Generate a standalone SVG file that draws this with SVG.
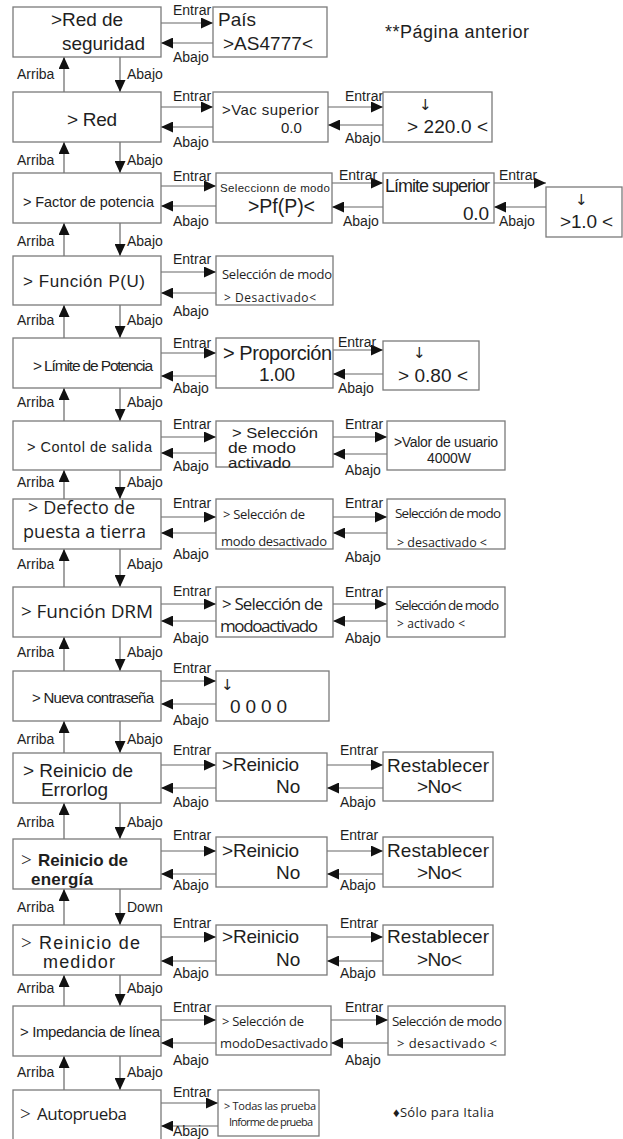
<svg xmlns="http://www.w3.org/2000/svg" width="623" height="1139" viewBox="0 0 623 1139">
<defs>
<style>
.box{fill:#fff;stroke:#7a7a7a;stroke-width:1.3}
.ln{stroke:#666;stroke-width:1.2;fill:none;marker-end:url(#ah)}
text{font-family:"Liberation Sans",Arial,sans-serif;fill:#1e1e1e}
.l{font-size:14px}
.m{font-family:"Open Sans","Noto Sans",sans-serif}
.b{font-weight:bold}
.s{font-family:"DejaVu Sans",sans-serif}
.t{font-family:"Liberation Serif",serif;font-weight:normal}
</style>
<marker id="ah" markerUnits="userSpaceOnUse" markerWidth="12" markerHeight="11" refX="12" refY="5.5" orient="auto"><path d="M0,0L12,5.5L0,11Z" fill="#111"/></marker>
</defs>

<g id="connectors">
<path class="ln" d="M64,92V57"/><path class="ln" d="M120,57V92"/>
<path class="ln" d="M64,173V142"/><path class="ln" d="M120,142V173"/>
<path class="ln" d="M64,256V223"/><path class="ln" d="M120,223V256"/>
<path class="ln" d="M64,338V305"/><path class="ln" d="M120,305V338"/>
<path class="ln" d="M64,421V388"/><path class="ln" d="M120,388V421"/>
<path class="ln" d="M64,499V470"/><path class="ln" d="M120,470V499"/>
<path class="ln" d="M64,587V549"/><path class="ln" d="M120,549V587"/>
<path class="ln" d="M64,671V637"/><path class="ln" d="M120,637V671"/>
<path class="ln" d="M64,753V721"/><path class="ln" d="M120,721V753"/>
<path class="ln" d="M64,839V803"/><path class="ln" d="M120,803V839"/>
<path class="ln" d="M64,925V889"/><path class="ln" d="M120,889V925"/>
<path class="ln" d="M64,1006V975"/><path class="ln" d="M120,975V1006"/>
<path class="ln" d="M64,1090V1056"/><path class="ln" d="M120,1056V1090"/>
<path class="ln" d="M161,23H213"/><path class="ln" d="M213,43H161"/>
<path class="ln" d="M161,107H213"/><path class="ln" d="M213,127H161"/>
<path class="ln" d="M328,107H383"/><path class="ln" d="M383,125H328"/>
<path class="ln" d="M161,186H216"/><path class="ln" d="M216,206H161"/>
<path class="ln" d="M332,183H383"/><path class="ln" d="M383,207H332"/>
<path class="ln" d="M494,183H546"/><path class="ln" d="M546,207H494"/>
<path class="ln" d="M161,272H216"/><path class="ln" d="M216,293H161"/>
<path class="ln" d="M161,353H216"/><path class="ln" d="M216,376H161"/>
<path class="ln" d="M333,350H383"/><path class="ln" d="M383,374H333"/>
<path class="ln" d="M161,437H216"/><path class="ln" d="M216,453H161"/>
<path class="ln" d="M333,437H387"/><path class="ln" d="M387,454H333"/>
<path class="ln" d="M161,517H216"/><path class="ln" d="M216,533H161"/>
<path class="ln" d="M333,517H387"/><path class="ln" d="M387,533H333"/>
<path class="ln" d="M161,604H216"/><path class="ln" d="M216,621H161"/>
<path class="ln" d="M333,604H387"/><path class="ln" d="M387,621H333"/>
<path class="ln" d="M161,681H216"/><path class="ln" d="M216,704H161"/>
<path class="ln" d="M161,765H216"/><path class="ln" d="M216,788H161"/>
<path class="ln" d="M327,765H383"/><path class="ln" d="M383,788H327"/>
<path class="ln" d="M161,851H216"/><path class="ln" d="M216,874H161"/>
<path class="ln" d="M327,851H383"/><path class="ln" d="M383,874H327"/>
<path class="ln" d="M161,937H216"/><path class="ln" d="M216,961H161"/>
<path class="ln" d="M327,937H383"/><path class="ln" d="M383,961H327"/>
<path class="ln" d="M161,1020H216"/><path class="ln" d="M216,1043H161"/>
<path class="ln" d="M331,1020H388"/><path class="ln" d="M388,1043H331"/>
<path class="ln" d="M161,1103H218"/><path class="ln" d="M218,1126H161"/>
<g class="l">
<text x="17" y="79">Arriba</text><text x="127" y="79">Abajo</text>
<text x="17" y="165">Arriba</text><text x="127" y="165">Abajo</text>
<text x="17" y="246">Arriba</text><text x="127" y="246">Abajo</text>
<text x="17" y="325">Arriba</text><text x="127" y="325">Abajo</text>
<text x="17" y="407">Arriba</text><text x="127" y="407">Abajo</text>
<text x="17" y="487">Arriba</text><text x="127" y="487">Abajo</text>
<text x="17" y="569">Arriba</text><text x="127" y="569">Abajo</text>
<text x="17" y="657">Arriba</text><text x="127" y="657">Abajo</text>
<text x="17" y="744">Arriba</text><text x="127" y="744">Abajo</text>
<text x="17" y="827">Arriba</text><text x="127" y="827">Abajo</text>
<text x="17" y="912">Arriba</text><text x="127" y="912">Down</text>
<text x="17" y="993">Arriba</text><text x="127" y="993">Abajo</text>
<text x="17" y="1077">Arriba</text><text x="127" y="1077">Abajo</text>
<text x="173" y="15">Entrar</text><text x="173" y="62">Abajo</text>
<text x="173" y="101">Entrar</text><text x="173" y="147">Abajo</text>
<text x="345" y="101">Entrar</text><text x="345" y="143">Abajo</text>
<text x="173" y="181">Entrar</text><text x="173" y="226">Abajo</text>
<text x="339" y="180">Entrar</text><text x="343" y="226">Abajo</text>
<text x="499" y="180">Entrar</text><text x="499" y="226">Abajo</text>
<text x="173" y="264">Entrar</text><text x="173" y="316">Abajo</text>
<text x="173" y="348">Entrar</text><text x="173" y="393">Abajo</text>
<text x="338" y="347">Entrar</text><text x="338" y="393">Abajo</text>
<text x="173" y="429">Entrar</text><text x="173" y="471">Abajo</text>
<text x="345" y="429">Entrar</text><text x="345" y="475">Abajo</text>
<text x="173" y="508">Entrar</text><text x="173" y="559">Abajo</text>
<text x="345" y="508">Entrar</text><text x="345" y="562">Abajo</text>
<text x="173" y="596">Entrar</text><text x="173" y="643">Abajo</text>
<text x="345" y="597">Entrar</text><text x="345" y="643">Abajo</text>
<text x="173" y="673">Entrar</text><text x="173" y="725">Abajo</text>
<text x="173" y="755">Entrar</text><text x="173" y="807">Abajo</text>
<text x="340" y="755">Entrar</text><text x="340" y="807">Abajo</text>
<text x="173" y="840">Entrar</text><text x="173" y="890">Abajo</text>
<text x="340" y="840">Entrar</text><text x="340" y="890">Abajo</text>
<text x="173" y="928">Entrar</text><text x="173" y="978">Abajo</text>
<text x="340" y="928">Entrar</text><text x="340" y="978">Abajo</text>
<text x="173" y="1012">Entrar</text><text x="173" y="1065">Abajo</text>
<text x="345" y="1012">Entrar</text><text x="345" y="1065">Abajo</text>
<text x="173" y="1097">Entrar</text><text x="173" y="1136">Abajo</text>
</g>
</g>

<text x="385" y="38" font-size="18" textLength="144">**Página anterior</text>

<g id="n1"><rect class="box" x="13" y="7" width="148" height="50"/>
<text font-size="19"><tspan x="51" y="26" textLength="72">&gt;Red de</tspan><tspan x="62" y="50" textLength="83">seguridad</tspan></text></g>
<g id="n1b"><rect class="box" x="213" y="7" width="114" height="50"/>
<text font-size="19"><tspan x="218" y="26">País</tspan><tspan x="223" y="50" textLength="90">&gt;AS4777&lt;</tspan></text></g>

<g id="n2"><rect class="box" x="13" y="92" width="148" height="50"/>
<text x="67" y="126" font-size="19" textLength="50">&gt; Red</text></g>
<g id="n2b"><rect class="box" x="213" y="92" width="115" height="50"/>
<text font-size="15"><tspan x="222" y="115" textLength="97">&gt;Vac superior</tspan><tspan x="281" y="133">0.0</tspan></text></g>
<g id="n2c"><rect class="box" x="383" y="92" width="109" height="50"/>
<text font-size="19"><tspan x="419" y="110" font-size="15" class="s">↓</tspan><tspan x="407" y="133" textLength="81">&gt; 220.0 &lt;</tspan></text></g>

<g id="n3"><rect class="box" x="13" y="173" width="148" height="50"/>
<text x="23" y="207" font-size="14.5" textLength="131">&gt; Factor de potencia</text></g>
<g id="n3b"><rect class="box" x="216" y="173" width="116" height="50"/>
<text><tspan x="220" y="192" font-size="11.5" textLength="110">Seleccionn de modo</tspan><tspan x="248" y="213" font-size="19.5" textLength="67">&gt;Pf(P)&lt;</tspan></text></g>
<g id="n3c"><rect class="box" x="383" y="173" width="111" height="50"/>
<text font-size="18"><tspan x="385" y="192" textLength="105">Límite superior</tspan><tspan x="463" y="220" font-size="19" textLength="26">0.0</tspan></text></g>
<g id="n3d"><rect class="box" x="546" y="187" width="76" height="50"/>
<text font-size="19"><tspan x="575" y="205" font-size="15" class="s">↓</tspan><tspan x="560" y="228" textLength="53">&gt;1.0 &lt;</tspan></text></g>

<g id="n4"><rect class="box" x="13" y="256" width="148" height="49"/>
<text x="23" y="287" font-size="17" textLength="122">&gt; Función P(U)</text></g>
<g id="n4b"><rect class="box" x="216" y="256" width="117" height="49"/>
<text class="m"><tspan x="222" y="279" font-size="13" textLength="110">Selección de modo</tspan><tspan x="224" y="302" font-size="12" textLength="92">&gt; Desactivado&lt;</tspan></text></g>

<g id="n5"><rect class="box" x="13" y="338" width="148" height="50"/>
<text x="33" y="371" font-size="15.5" textLength="120">&gt; Límite de Potencia</text></g>
<g id="n5b"><rect class="box" x="216" y="338" width="117" height="50"/>
<text><tspan x="223" y="360" font-size="20" textLength="109">&gt; Proporción</tspan><tspan x="259" y="381" font-size="19" textLength="36">1.00</tspan></text></g>
<g id="n5c"><rect class="box" x="383" y="341" width="96" height="49"/>
<text font-size="19"><tspan x="413" y="358" font-size="15" class="s">↓</tspan><tspan x="398" y="382" textLength="70">&gt; 0.80 &lt;</tspan></text></g>

<g id="n6"><rect class="box" x="13" y="421" width="148" height="49"/>
<text x="27" y="452" font-size="14.5" textLength="125">&gt; Contol de salida</text></g>
<g id="n6b"><rect class="box" x="216" y="421" width="117" height="46"/>
<text font-size="14.5"><tspan x="232" y="438" textLength="86" lengthAdjust="spacingAndGlyphs">&gt; Selección</tspan><tspan x="228" y="453" textLength="68" lengthAdjust="spacingAndGlyphs">de modo</tspan><tspan x="228" y="468" textLength="63" lengthAdjust="spacingAndGlyphs">activado</tspan></text></g>
<g id="n6c"><rect class="box" x="387" y="421" width="118" height="49"/>
<text font-size="14"><tspan x="394" y="447" textLength="104">&gt;Valor de usuario</tspan><tspan x="427" y="463" textLength="44">4000W</tspan></text></g>

<g id="n7"><rect class="box" x="13" y="499" width="148" height="50"/>
<text class="m" font-size="18"><tspan x="28" y="514" textLength="107">&gt; Defecto de</tspan><tspan x="23" y="538" textLength="123">puesta a tierra</tspan></text></g>
<g id="n7b"><rect class="box" x="216" y="499" width="117" height="50"/>
<text class="m" font-size="13"><tspan x="223" y="519" textLength="82">&gt; Selección de</tspan><tspan x="221" y="546" textLength="106">modo desactivado</tspan></text></g>
<g id="n7c"><rect class="box" x="387" y="499" width="118" height="50"/>
<text class="m" font-size="13.5"><tspan x="395" y="518" textLength="106">Selección de modo</tspan><tspan x="397" y="547" font-size="12.5" textLength="90">&gt; desactivado &lt;</tspan></text></g>

<g id="n8"><rect class="box" x="13" y="587" width="148" height="50"/>
<text x="21" y="618" font-size="19" class="m" textLength="132">&gt; Función DRM</text></g>
<g id="n8b"><rect class="box" x="216" y="587" width="117" height="50"/>
<text class="m" font-size="17"><tspan x="222" y="610" textLength="101">&gt; Selección de</tspan><tspan x="220" y="632" textLength="98">modoactivado</tspan></text></g>
<g id="n8c"><rect class="box" x="387" y="587" width="118" height="50"/>
<text class="m" font-size="13.5"><tspan x="395" y="610" textLength="104">Selección de modo</tspan><tspan x="397" y="628" font-size="12" textLength="68">&gt; activado &lt;</tspan></text></g>

<g id="n9"><rect class="box" x="13" y="671" width="148" height="50"/>
<text x="32" y="703" font-size="15" textLength="122">&gt; Nueva contraseña</text></g>
<g id="n9b"><rect class="box" x="216" y="671" width="113" height="50"/>
<text font-size="19"><tspan x="221" y="690" font-size="15" class="s">↓</tspan><tspan x="230" y="713" textLength="57">0 0 0 0</tspan></text></g>

<g id="n10"><rect class="box" x="13" y="753" width="148" height="50"/>
<text font-size="19"><tspan x="23" y="777" textLength="110">&gt; Reinicio de</tspan><tspan x="41" y="796" textLength="67">Errorlog</tspan></text></g>
<g id="n10b"><rect class="box" x="216" y="753" width="111" height="48"/>
<text font-size="19"><tspan x="222" y="771" textLength="77">&gt;Reinicio</tspan><tspan x="276" y="793">No</tspan></text></g>
<g id="n10c"><rect class="box" x="383" y="752" width="110" height="49"/>
<text font-size="19"><tspan x="387" y="772" textLength="102">Restablecer</tspan><tspan x="417" y="793" textLength="45">&gt;No&lt;</tspan></text></g>

<g id="n11"><rect class="box" x="13" y="839" width="148" height="50"/>
<text class="b" font-size="17"><tspan x="21" y="866" font-size="19" class="t">&gt;</tspan><tspan x="38" y="866" textLength="90">Reinicio de</tspan><tspan x="31" y="885" textLength="62">energía</tspan></text></g>
<g id="n11b"><rect class="box" x="216" y="837" width="111" height="50"/>
<text font-size="19"><tspan x="222" y="857" textLength="77">&gt;Reinicio</tspan><tspan x="276" y="879">No</tspan></text></g>
<g id="n11c"><rect class="box" x="383" y="837" width="110" height="50"/>
<text font-size="19"><tspan x="387" y="857" textLength="102">Restablecer</tspan><tspan x="417" y="879" textLength="45">&gt;No&lt;</tspan></text></g>

<g id="n12"><rect class="box" x="13" y="925" width="148" height="50"/>
<text font-size="18"><tspan x="21" y="949" font-size="19" class="t">&gt;</tspan><tspan x="39" y="949" textLength="101">Reinicio de</tspan><tspan x="43" y="968" textLength="72">medidor</tspan></text></g>
<g id="n12b"><rect class="box" x="216" y="925" width="111" height="50"/>
<text font-size="19"><tspan x="222" y="943" textLength="77">&gt;Reinicio</tspan><tspan x="276" y="966">No</tspan></text></g>
<g id="n12c"><rect class="box" x="383" y="925" width="110" height="50"/>
<text font-size="19"><tspan x="387" y="943" textLength="102">Restablecer</tspan><tspan x="417" y="966" textLength="45">&gt;No&lt;</tspan></text></g>

<g id="n13"><rect class="box" x="13" y="1006" width="148" height="50"/>
<text x="20" y="1037" font-size="15" textLength="140">&gt; Impedancia de línea</text></g>
<g id="n13b"><rect class="box" x="216" y="1006" width="115" height="49"/>
<text class="m" font-size="13"><tspan x="222" y="1026" textLength="82">&gt; Selección de</tspan><tspan x="220" y="1048" textLength="108">modoDesactivado</tspan></text></g>
<g id="n13c"><rect class="box" x="388" y="1006" width="117" height="49"/>
<text class="m" font-size="13.5"><tspan x="392" y="1026" textLength="110">Selección de modo</tspan><tspan x="397" y="1048" font-size="13" textLength="100">&gt; desactivado &lt;</tspan></text></g>

<g id="n14"><rect class="box" x="13" y="1090" width="148" height="50"/>
<text class="m" font-size="17"><tspan x="20" y="1120" font-size="19" class="t">&gt;</tspan><tspan x="37" y="1120" textLength="90">Autoprueba</tspan></text></g>
<g id="n14b"><rect class="box" x="218" y="1090" width="101" height="46"/>
<text class="m" font-size="11"><tspan x="224" y="1110" textLength="92">&gt; Todas las prueba</tspan><tspan x="229" y="1126" textLength="84">Informe de prueba</tspan></text></g>
<text x="393" y="1117" font-size="13" class="m" textLength="101">♦Sólo para Italia</text>
</svg>
